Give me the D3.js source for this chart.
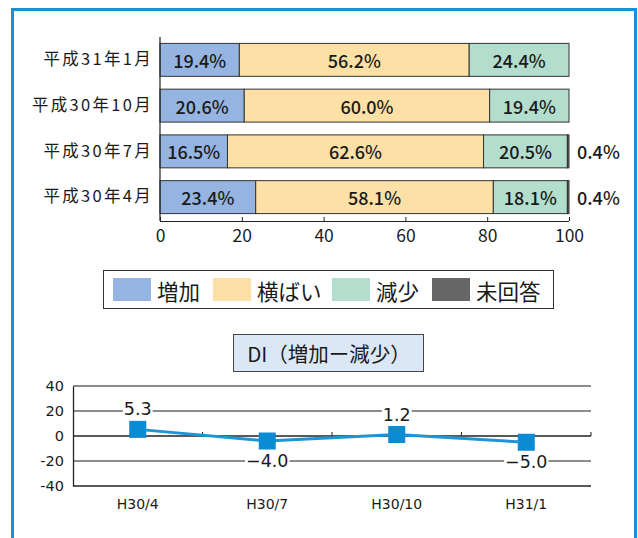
<!DOCTYPE html>
<html><head><meta charset="utf-8">
<script src="https://cdn.jsdelivr.net/npm/d3@7/dist/d3.min.js"></script>
<style>
html,body{margin:0;padding:0;background:#fff;}
text{font-family:"Noto Sans CJK JP","Noto Sans",sans-serif;fill:#1a1a1a;}
</style></head><body>
<svg id="c" width="638" height="538"></svg>
<script>
const periods = ["平成31年1月","平成30年10月","平成30年7月","平成30年4月"];
const seriesNames = ["増加","横ばい","減少","未回答"];
const increase = [19.4, 20.6, 16.5, 23.4];
const flat = [56.2, 60.0, 62.6, 58.1];
const decrease = [24.4, 19.4, 20.5, 18.1];
const noAnswer = [0, 0, 0.4, 0.4];
const xTicks = [0,20,40,60,80,100];

const diLabels = ["H30/4","H30/7","H30/10","H31/1"];
const diValues = [5.3, -4.0, 1.2, -5.0];
const diTicks = [40,20,0,-20,-40];
const diTitle = "DI（増加ー減少）";

const colors = ["#95b4e1","#fde0a5","#b3ddcc","#666666"];

const svg = d3.select("#c");
// outer frame
svg.append("rect").attr("x",12.5).attr("y",9.5).attr("width",623).attr("height",540)
  .attr("fill","none").attr("stroke","#1a90d8").attr("stroke-width",3);

// ---------- bar chart ----------
const x = d3.scaleLinear().domain([0,100]).range([160,569]);
const y = d3.scaleBand().domain(periods).range([37,220]).paddingInner(0.28).paddingOuter(0.14);
const seriesVals = [increase, flat, decrease, noAnswer];
const rows = periods.map((p,i)=>{
  let acc=0; const segs=[];
  seriesVals.forEach((arr,k)=>{ const v=arr[i]; segs.push({k, v, x0:acc, x1:acc+v, p}); acc+=v; });
  return segs;
});
const gBar = svg.append("g");
rows.forEach(segs=>{
  segs.forEach(s=>{
    if (s.v<=0) return;
    gBar.append("rect").attr("x",x(s.x0)).attr("y",y(s.p)).attr("width",x(s.x1)-x(s.x0))
      .attr("height",y.bandwidth()).attr("fill",colors[s.k]).attr("stroke","#333").attr("stroke-width",1);
  });
  segs.forEach(s=>{
    if (s.v<=0) return;
    const inside = s.k<3;
    gBar.append("text").attr("x", inside ? (x(s.x0)+x(s.x1))/2 : 577).attr("y",y(s.p)+y.bandwidth()/2)
      .attr("text-anchor", inside ? "middle" : "start").attr("dominant-baseline","central")
      .attr("font-size",18).attr("font-weight",500).text(d3.format(".1f")(s.v)+"%");
  });
});
// y axis line & labels
const yAx = svg.append("g").attr("transform","translate(160,0)")
  .call(d3.axisLeft(y).tickSize(0).tickPadding(7));
yAx.select(".domain").remove();
yAx.selectAll("text").attr("font-size",16.5).attr("letter-spacing",2.3)
  .style("font-family",'"Noto Sans CJK JP",sans-serif').attr("fill","#1a1a1a");
svg.append("line").attr("x1",160).attr("x2",160).attr("y1",37).attr("y2",221).attr("stroke","#222").attr("stroke-width",1.2);
// x axis
const xAx = svg.append("g").attr("transform","translate(0,221)")
  .call(d3.axisBottom(x).tickValues(xTicks).tickSize(-4).tickPadding(9));
xAx.select(".domain").attr("stroke","#222").attr("stroke-width",1.2).attr("d","M160,0.5H569");
xAx.selectAll(".tick line").attr("stroke","#222");
xAx.selectAll("text").attr("font-size",17.5).style("font-family",'"Noto Sans CJK JP",sans-serif').attr("fill","#1a1a1a");

// ---------- legend ----------
const lg = svg.append("g");
lg.append("rect").attr("x",103.5).attr("y",270.5).attr("width",450).attr("height",38)
  .attr("fill","#fff").attr("stroke","#333").attr("stroke-width",1);
const lgX = [113,213,332,432];
seriesNames.forEach((n,i)=>{
  lg.append("rect").attr("x",lgX[i]).attr("y",278).attr("width",38).attr("height",23).attr("fill",colors[i]);
  lg.append("text").attr("x",lgX[i]+44).attr("y",290).attr("dominant-baseline","central")
    .attr("font-size",21.5).text(n);
});

// ---------- DI title ----------
svg.append("rect").attr("x",233.5).attr("y",334.5).attr("width",190).attr("height",37)
  .attr("fill","#dce7f5").attr("stroke","#444").attr("stroke-width",1);
svg.append("text").attr("x",329).attr("y",353).attr("text-anchor","middle").attr("dominant-baseline","central")
  .attr("font-size",20.5).text(diTitle);

// ---------- DI line chart ----------
const lx = d3.scaleBand().domain(diLabels).range([73,591]);
const ly = d3.scaleLinear().domain([-40,40]).range([486,386]);
const gL = svg.append("g");
diTicks.forEach(t=>{
  gL.append("line").attr("x1",73).attr("x2",591).attr("y1",ly(t)).attr("y2",ly(t))
    .attr("stroke", t===0||t===-40 ? "#222" : "#666").attr("stroke-width", t===0?1.5:1.3);
});
const lyAx = gL.append("g").attr("transform","translate(73,0)")
  .call(d3.axisLeft(ly).tickValues(diTicks).tickSize(0).tickPadding(9).tickFormat(d=>String(d)));
lyAx.select(".domain").attr("stroke","#222").attr("stroke-width",1.3);
lyAx.selectAll("text").attr("font-size",14.5).style("font-family",'"DejaVu Sans",sans-serif').attr("fill","#1a1a1a");
// x band boundary ticks on zero line
[1,2,3,4].forEach(i=>{
  const bx = 73 + lx.step()*i;
  gL.append("line").attr("x1",bx).attr("x2",bx).attr("y1",ly(0)-4).attr("y2",ly(0)).attr("stroke","#222");
});
const lxAx = gL.append("g").attr("transform","translate(0,"+ly(-40)+")")
  .call(d3.axisBottom(lx).tickSize(0).tickPadding(13));
lxAx.select(".domain").remove();
lxAx.selectAll("text").attr("font-size",14).style("font-family",'"DejaVu Sans",sans-serif').attr("fill","#1a1a1a");

const cx = d => lx(d)+lx.bandwidth()/2;
const pts = diLabels.map((l,i)=>({l, v:diValues[i]}));
gL.append("path").datum(pts).attr("fill","none").attr("stroke","#1d95d6").attr("stroke-width",3)
  .attr("d", d3.line().x(d=>cx(d.l)).y(d=>ly(d.v)));
gL.selectAll(".pt").data(pts).enter().append("rect")
  .attr("x",d=>cx(d.l)-8.5).attr("y",d=>ly(d.v)-8.5).attr("width",17).attr("height",17).attr("fill","#0a8bd2");
pts.forEach(d=>{
  const ty = d.v>=0 ? ly(d.v)-20 : ly(d.v)+20;
  const lg2 = gL.append("g");
  const bgr = lg2.append("rect").attr("fill","#fff");
  const t = lg2.append("text").attr("x",cx(d.l)).attr("y",ty).attr("text-anchor","middle")
    .attr("dominant-baseline","central").attr("font-size",17.5)
    .style("font-family",'"DejaVu Sans",sans-serif').text(d3.format(".1f")(d.v));
  const bb = t.node().getBBox();
  bgr.attr("x",bb.x-1).attr("y",bb.y+3).attr("width",bb.width+2).attr("height",bb.height-6);
});
</script>
</body></html>
